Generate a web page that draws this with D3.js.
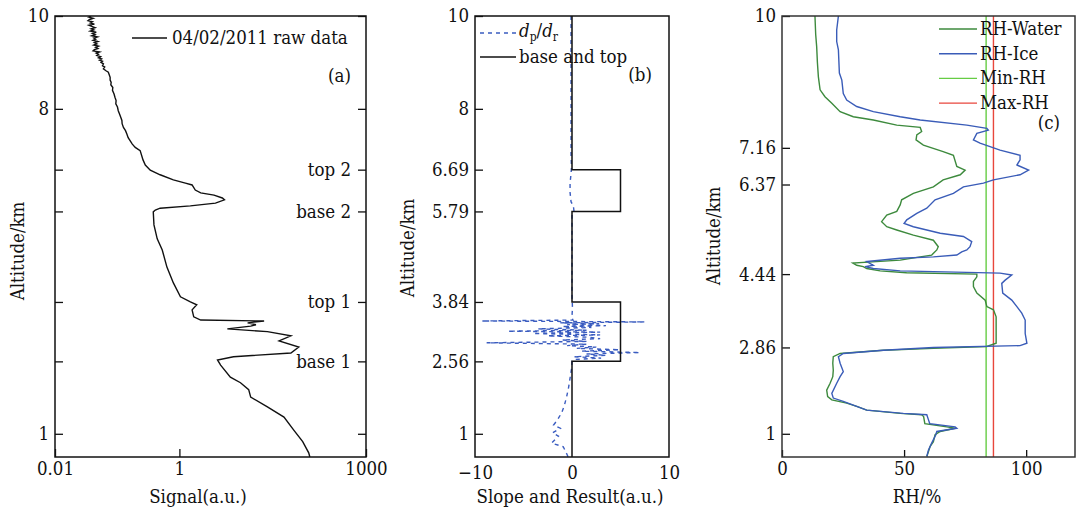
<!DOCTYPE html>
<html>
<head>
<meta charset="utf-8">
<script src="https://cdn.jsdelivr.net/npm/d3@7"></script>
<style>
  body { margin: 0; background: #fff; }
  svg { display: block; }
  text { font-family: "DejaVu Serif Condensed", "DejaVu Serif", serif; font-size: 18.5px; fill: #111; }
  .tick line { stroke: #111; stroke-width: 1.3; }
  .frame { fill: none; stroke: #111; stroke-width: 1.5; }
</style>
</head>
<body>
<svg width="1081" height="510"></svg>
<script>
// panel (a): raw signal
var sigAlt = [10.00, 9.975, 9.95, 9.925, 9.90, 9.875, 9.85, 9.825, 9.80, 9.775, 9.75, 9.725, 9.70, 9.675, 9.65, 9.625, 9.60, 9.575, 9.55, 9.525,
  9.50, 9.475, 9.45, 9.425, 9.40, 9.375, 9.35, 9.325, 9.30, 9.275, 9.25, 9.225, 9.20, 9.175, 9.15, 9.125, 9.10, 9.075, 9.05, 9.025,
  9.00, 8.97, 8.93, 8.90, 8.86, 8.82, 8.79, 8.68, 8.62, 8.57, 8.52, 8.46, 8.40, 8.32, 8.25, 8.18, 8.11, 8.04, 7.96, 7.89,
  7.82, 7.75, 7.68, 7.60, 7.53, 7.46, 7.38, 7.31, 7.24, 7.17, 7.10, 6.90, 6.79, 6.68, 6.58, 6.47,
  6.40, 6.36, 6.25, 6.19, 6.14, 6.08, 6.04, 5.97, 5.91, 5.86, 5.82, 5.78, 5.50, 5.20, 4.96, 4.59, 4.25, 3.95, 3.84, 3.78,
  3.67, 3.52, 3.45, 3.43, 3.39, 3.35, 3.32, 3.26, 3.20, 3.11, 3.00, 2.87, 2.74, 2.66, 2.59, 2.48, 2.22, 2.10, 1.95, 1.79,
  1.58, 1.36, 1.08, 0.83, 0.59, 0.50];
var sigVal = [0.038, 0.035, 0.041, 0.036, 0.034, 0.040, 0.037, 0.043, 0.035, 0.039, 0.044, 0.038, 0.042, 0.037, 0.046, 0.040, 0.044, 0.039, 0.048, 0.042,
  0.045, 0.041, 0.049, 0.043, 0.047, 0.042, 0.050, 0.045, 0.049, 0.043, 0.041, 0.052, 0.046, 0.050, 0.047, 0.054, 0.050, 0.056, 0.052, 0.058,
  0.055, 0.060, 0.058, 0.063, 0.060, 0.066, 0.072, 0.077, 0.077, 0.080, 0.079, 0.085, 0.084, 0.089, 0.092, 0.096, 0.095, 0.101, 0.104, 0.109,
  0.114, 0.119, 0.120, 0.126, 0.136, 0.143, 0.150, 0.162, 0.175, 0.195, 0.234, 0.26, 0.283, 0.34, 0.49, 0.80,
  1.25, 1.6, 1.8, 2.2, 3.6, 4.9, 5.3, 3.8, 1.5, 0.49, 0.41, 0.38, 0.39, 0.44, 0.53, 0.63, 0.80, 1.04, 1.5, 1.9,
  1.6, 1.7, 2.2, 23, 12.5, 17, 14, 5.9, 26, 62, 40, 83, 62, 7.4, 4.1, 4.6, 6.6, 9.6, 13, 14,
  26, 48, 69, 96, 120, 125];

// panel (b): slope and cloud result
var slopeAlt = [10, 9, 8, 7, 6.75, 6.6, 6.4, 6.2, 6.0, 5.9, 5.8, 5.7, 5.0, 4.5, 4.0, 3.7, 3.55, 3.50, 3.45,
  3.43, 3.41, 3.39, 3.37, 3.35, 3.33, 3.31, 3.29, 3.26, 3.23, 3.21, 3.19, 3.16, 3.13, 3.11, 3.08, 3.05, 3.02, 2.99, 2.96,
  2.93, 2.90, 2.87, 2.84, 2.81, 2.78, 2.75, 2.72, 2.69, 2.66, 2.63, 2.60, 2.56,
  2.4, 2.2, 2.0, 1.8, 1.6, 1.45, 1.3, 1.19, 1.12, 1.02, 0.95, 0.8, 0.72, 0.55, 0.5];
var slopeVal = [-0.1, -0.1, -0.1, -0.1, -0.05, -0.1, -0.2, -0.2, -0.1, 0.15, 0.2, 0, 0, 0, 0, 0.05, 0, 0, 0.1,
  -9.3, 7.5, -1.2, 2.8, -0.5, 3.5, -1.0, 2.0, -3.5, 1.5, -6.6, 2.9, -4.0, 2.9, -2.5, 1.8, 2.9, -1.0, 1.5, -8.8,
  1.5, -0.5, 2.5, 0.5, 4.9, 1.0, 7.0, 1.5, 3.5, 0.2, 3.0, 0.2, 0,
  -0.05, -0.2, -0.35, -0.55, -0.8, -1.07, -1.5, -1.9, -1.2, -2.0, -1.4, -2.1, -0.9, -0.5, -0.4];
var cloudBase = [2.56, 5.79];
var cloudTop = [3.84, 6.69];
var resultValue = 5;

// panel (c): relative humidity
var waterAlt = [10, 9.6, 9.34, 9.0, 8.69, 8.41, 8.26, 8.12, 7.94, 7.83, 7.76, 7.65, 7.60, 7.51, 7.44, 7.33, 7.22, 7.08, 7.00, 6.76,
  6.68, 6.58, 6.47, 6.32, 6.18, 6.04, 5.93, 5.79, 5.71, 5.57, 5.46, 5.39, 5.28, 5.17, 5.03, 4.96, 4.85, 4.81, 4.74, 4.68,
  4.63, 4.60, 4.56, 4.51, 4.47, 4.44, 4.38, 4.28, 4.17, 4.03, 3.88, 3.74, 3.67, 3.52, 2.95, 2.88, 2.84, 2.80, 2.73, 2.66,
  2.52, 2.37, 2.23, 2.09, 1.94, 1.80, 1.73, 1.66, 1.59, 1.51, 1.44, 1.41, 1.37, 1.22, 1.15, 1.12, 1.05, 0.98, 0.83, 0.73, 0.51];
var waterRH = [13.5, 13.8, 14.2, 14.5, 14.9, 15.6, 17.6, 20.4, 23.8, 29.2, 37.4, 47, 56.6, 57.2, 55.2, 54.9, 57.9, 66, 70.2, 71.6,
  75, 73, 66, 62, 53.8, 49, 48.4, 47, 42.9, 40.8, 42.9, 47, 53.8, 62, 64, 63.4, 61.3, 56.6, 48.4, 29.0,
  30.6, 33.3, 34.7, 40.2, 51, 79.8, 79.8, 78.4, 78.4, 79.8, 83.2, 83.9, 86.6, 87.7, 87.7, 83.9, 62, 41.5, 23.8, 21,
  20.8, 21, 20.8, 19.7, 18.3, 18.7, 20.4, 26.5, 30.6, 34.7, 48.4, 57.2, 58, 58.5, 67.5, 70.9, 64.8, 62.7, 62, 60.7, 59.3];
var iceAlt = [10, 9.7, 9.45, 9.27, 8.77, 8.62, 8.33, 8.19, 8.05, 7.94, 7.83, 7.76, 7.65, 7.58, 7.54, 7.47, 7.33, 7.26, 7.11, 7.00,
  6.90, 6.79, 6.68, 6.58, 6.47, 6.40, 6.32, 6.18, 6.04, 5.86, 5.75, 5.61, 5.53, 5.46, 5.32, 5.25, 5.14, 5.03, 4.96, 4.92,
  4.85, 4.81, 4.78, 4.71, 4.63, 4.60, 4.56, 4.51, 4.46, 4.42, 4.31, 4.24, 4.03, 3.88, 3.74, 3.60, 3.45, 3.16, 2.95, 2.90,
  2.86, 2.80, 2.73, 2.66, 2.52, 2.34, 2.23, 2.09, 1.87, 1.77, 1.70, 1.59, 1.51, 1.44, 1.41, 1.30, 1.22, 1.15, 1.12, 1.05,
  0.98, 0.80, 0.65, 0.51];
var iceRH = [23.1, 22.4, 22.4, 23.1, 23.5, 24.5, 25.1, 26.5, 30.6, 37.4, 48.4, 56.6, 75.7, 83.9, 84.5, 79.8, 78.4, 81.1, 89.3, 97.5,
  97.5, 96.2, 101, 97.5, 86.6, 82.5, 74.3, 70.2, 62.7, 59.3, 55.2, 51.1, 50, 53.8, 64.8, 74.3, 77.7, 77, 75.7, 73.6,
  71.6, 62, 48.4, 34.7, 37.4, 34, 37.4, 48.4, 89.3, 94.1, 91.4, 90, 90.4, 94.1, 96.2, 98.2, 99.6, 99.6, 100.3, 97.5,
  62, 41.5, 25.1, 23.1, 23.8, 25.1, 23.8, 22.4, 20.4, 21, 25.1, 30.6, 34.7, 49.7, 59.3, 60, 60.5, 70.9, 71.6, 63.4,
  63, 61.3, 60, 59.3];
var minRH = 83.6;
var maxRH = 86.6;

var svg = d3.select("svg");
var top0 = 16, bottom0 = 457;
var y = d3.scaleLinear().domain([0.5, 10]).range([bottom0, top0]);

function zip(xs, ys) { return xs.map(function(v, i) { return [v, ys[i]]; }); }

function panel(id, left, right) {
  var g = svg.append("g");
  svg.append("clipPath").attr("id", "clip" + id)
    .append("rect").attr("x", left).attr("y", top0).attr("width", right - left).attr("height", bottom0 - top0);
  return g;
}

function leftAxis(g, left, vals, fmt) {
  g.append("g").attr("transform", "translate(" + left + ",0)")
    .call(d3.axisLeft(y).tickValues(vals).tickSizeInner(-8).tickSizeOuter(0).tickPadding(6).tickFormat(fmt))
    .call(function(a) { a.select(".domain").remove(); });
}

function yTitle(g, cx, cy) {
  g.append("text").attr("transform", "translate(" + cx + "," + cy + ") rotate(-90)")
    .attr("text-anchor", "middle").attr("dy", "0.35em").text("Altitude/km");
}

// ---------- (a)
var ga = panel("a", 55, 366);
var xa = d3.scaleLog().domain([0.01, 1000]).range([55, 366]);
var sigData = zip(sigVal, sigAlt);
ga.append("path").datum(sigData)
  .attr("clip-path", "url(#clipa)")
  .attr("fill", "none").attr("stroke", "#111").attr("stroke-width", 1.4)
  .attr("d", d3.line().x(function(d) { return xa(d[0]); }).y(function(d) { return y(d[1]); }));

var aTicks = [10, 8, 6.69, 5.79, 3.84, 2.56, 1];
leftAxis(ga, 55, aTicks, function(d) { return [10, 8, 1].indexOf(d) >= 0 ? d : ""; });
var rightLab = { 6.69: "top 2", 5.79: "base 2", 3.84: "top 1", 2.56: "base 1" };
ga.append("g").attr("transform", "translate(366,0)")
  .call(d3.axisLeft(y).tickValues(aTicks).tickSizeInner(8).tickSizeOuter(0).tickPadding(7)
    .tickFormat(function(d) { return rightLab[d] || ""; }))
  .call(function(a) { a.select(".domain").remove(); });
ga.append("g").attr("transform", "translate(0," + bottom0 + ")")
  .call(d3.axisBottom(xa).tickValues([0.01, 1, 1000]).tickSizeInner(-8).tickSizeOuter(0).tickPadding(5)
    .tickFormat(function(d) { return d === 0.01 ? "0.01" : String(d); }))
  .call(function(a) { a.select(".domain").remove(); });
ga.append("rect").attr("class", "frame").attr("x", 55).attr("y", top0).attr("width", 311).attr("height", bottom0 - top0);

ga.append("line").attr("x1", 132).attr("x2", 167).attr("y1", 38).attr("y2", 38).attr("stroke", "#111").attr("stroke-width", 1.4);
ga.append("text").attr("x", 172).attr("y", 44).text("04/02/2011 raw data");
ga.append("text").attr("x", 351).attr("y", 82).attr("text-anchor", "end").text("(a)");
ga.append("text").attr("x", 198).attr("y", 503).attr("text-anchor", "middle").text("Signal(a.u.)");
yTitle(ga, 18, 251);

// ---------- (b)
var gb = panel("b", 475, 669);
var xb = d3.scaleLinear().domain([-10, 10]).range([475, 669]);
var lineB = d3.line().x(function(d) { return xb(d[0]); }).y(function(d) { return y(d[1]); });

var stepData = [[0, 10]];
for (var i = cloudTop.length - 1; i >= 0; i--) {
  stepData.push([0, cloudTop[i]], [resultValue, cloudTop[i]], [resultValue, cloudBase[i]], [0, cloudBase[i]]);
}
stepData.push([0, 0.5]);

gb.append("path").datum(zip(slopeVal, slopeAlt))
  .attr("clip-path", "url(#clipb)")
  .attr("fill", "none").attr("stroke", "#3a5cc0").attr("stroke-width", 1.4).attr("stroke-dasharray", "4,4")
  .attr("d", lineB);
gb.append("path").datum(stepData)
  .attr("clip-path", "url(#clipb)")
  .attr("fill", "none").attr("stroke", "#111").attr("stroke-width", 1.5)
  .attr("d", lineB);

leftAxis(gb, 475, [10, 8, 6.69, 5.79, 3.84, 2.56, 1], function(d) { return d; });
gb.append("g").attr("transform", "translate(0," + bottom0 + ")")
  .call(d3.axisBottom(xb).tickValues([-10, 0, 10]).tickSize(0).tickPadding(9)
    .tickFormat(function(d) { return d < 0 ? "\u2212" + Math.abs(d) : d; }))
  .call(function(a) { a.select(".domain").remove(); });
gb.append("rect").attr("class", "frame").attr("x", 475).attr("y", top0).attr("width", 194).attr("height", bottom0 - top0);

gb.append("line").attr("x1", 480).attr("x2", 517).attr("y1", 33).attr("y2", 33)
  .attr("stroke", "#3a5cc0").attr("stroke-width", 1.4).attr("stroke-dasharray", "4,4");
var lt = gb.append("text").attr("x", 519).attr("y", 37);
lt.append("tspan").attr("font-style", "italic").text("d");
lt.append("tspan").attr("font-size", "12px").attr("dy", 4).text("p");
lt.append("tspan").attr("dy", -4).text("/");
lt.append("tspan").attr("font-style", "italic").text("d");
lt.append("tspan").attr("font-size", "12px").attr("dy", 4).text("r");
gb.append("line").attr("x1", 480).attr("x2", 516).attr("y1", 57).attr("y2", 57).attr("stroke", "#111").attr("stroke-width", 1.5);
gb.append("text").attr("x", 519).attr("y", 63).text("base and top");
gb.append("text").attr("x", 652).attr("y", 81).attr("text-anchor", "end").text("(b)");
gb.append("text").attr("x", 570).attr("y", 503).attr("text-anchor", "middle").text("Slope and Result(a.u.)");
yTitle(gb, 408, 248);

// ---------- (c)
var gc = panel("c", 782, 1075);
var xc = d3.scaleLinear().domain([0, 120]).range([782, 1075]);
var lineC = d3.line().x(function(d) { return xc(d[0]); }).y(function(d) { return y(d[1]); });
var colWater = "#3d8a3d", colIce = "#3a5cb8", colMin = "#66cc44", colMax = "#e8463c";

gc.append("line").attr("x1", xc(minRH)).attr("x2", xc(minRH)).attr("y1", y(10)).attr("y2", y(0.5))
  .attr("stroke", colMin).attr("stroke-width", 1.4);
gc.append("line").attr("x1", xc(maxRH)).attr("x2", xc(maxRH)).attr("y1", y(10)).attr("y2", y(0.5))
  .attr("stroke", colMax).attr("stroke-width", 1.4);
gc.append("path").datum(zip(waterRH, waterAlt)).attr("clip-path", "url(#clipc)")
  .attr("fill", "none").attr("stroke", colWater).attr("stroke-width", 1.4).attr("d", lineC);
gc.append("path").datum(zip(iceRH, iceAlt)).attr("clip-path", "url(#clipc)")
  .attr("fill", "none").attr("stroke", colIce).attr("stroke-width", 1.4).attr("d", lineC);

leftAxis(gc, 782, [10, 7.16, 6.37, 4.44, 2.86, 1], function(d) { return d; });
gc.append("g").attr("transform", "translate(0," + bottom0 + ")")
  .call(d3.axisBottom(xc).tickValues([0, 50, 100]).tickSizeInner(-7).tickSizeOuter(0).tickPadding(5))
  .call(function(a) { a.select(".domain").remove(); });
gc.append("rect").attr("class", "frame").attr("x", 782).attr("y", top0).attr("width", 293).attr("height", bottom0 - top0)
  .style("stroke", "#333");

var legC = [["RH-Water", colWater], ["RH-Ice", colIce], ["Min-RH", colMin], ["Max-RH", colMax]];
legC.forEach(function(d, i) {
  var ly = 29 + i * 24.7;
  gc.append("line").attr("x1", 939).attr("x2", 977).attr("y1", ly).attr("y2", ly).attr("stroke", d[1]).attr("stroke-width", 1.4);
  gc.append("text").attr("x", 980).attr("y", ly + 6).text(d[0]);
});
gc.append("text").attr("x", 1060).attr("y", 129).attr("text-anchor", "end").text("(c)");
gc.append("text").attr("x", 917).attr("y", 503).attr("text-anchor", "middle").text("RH/%");
yTitle(gc, 714, 236);
</script>
</body>
</html>
